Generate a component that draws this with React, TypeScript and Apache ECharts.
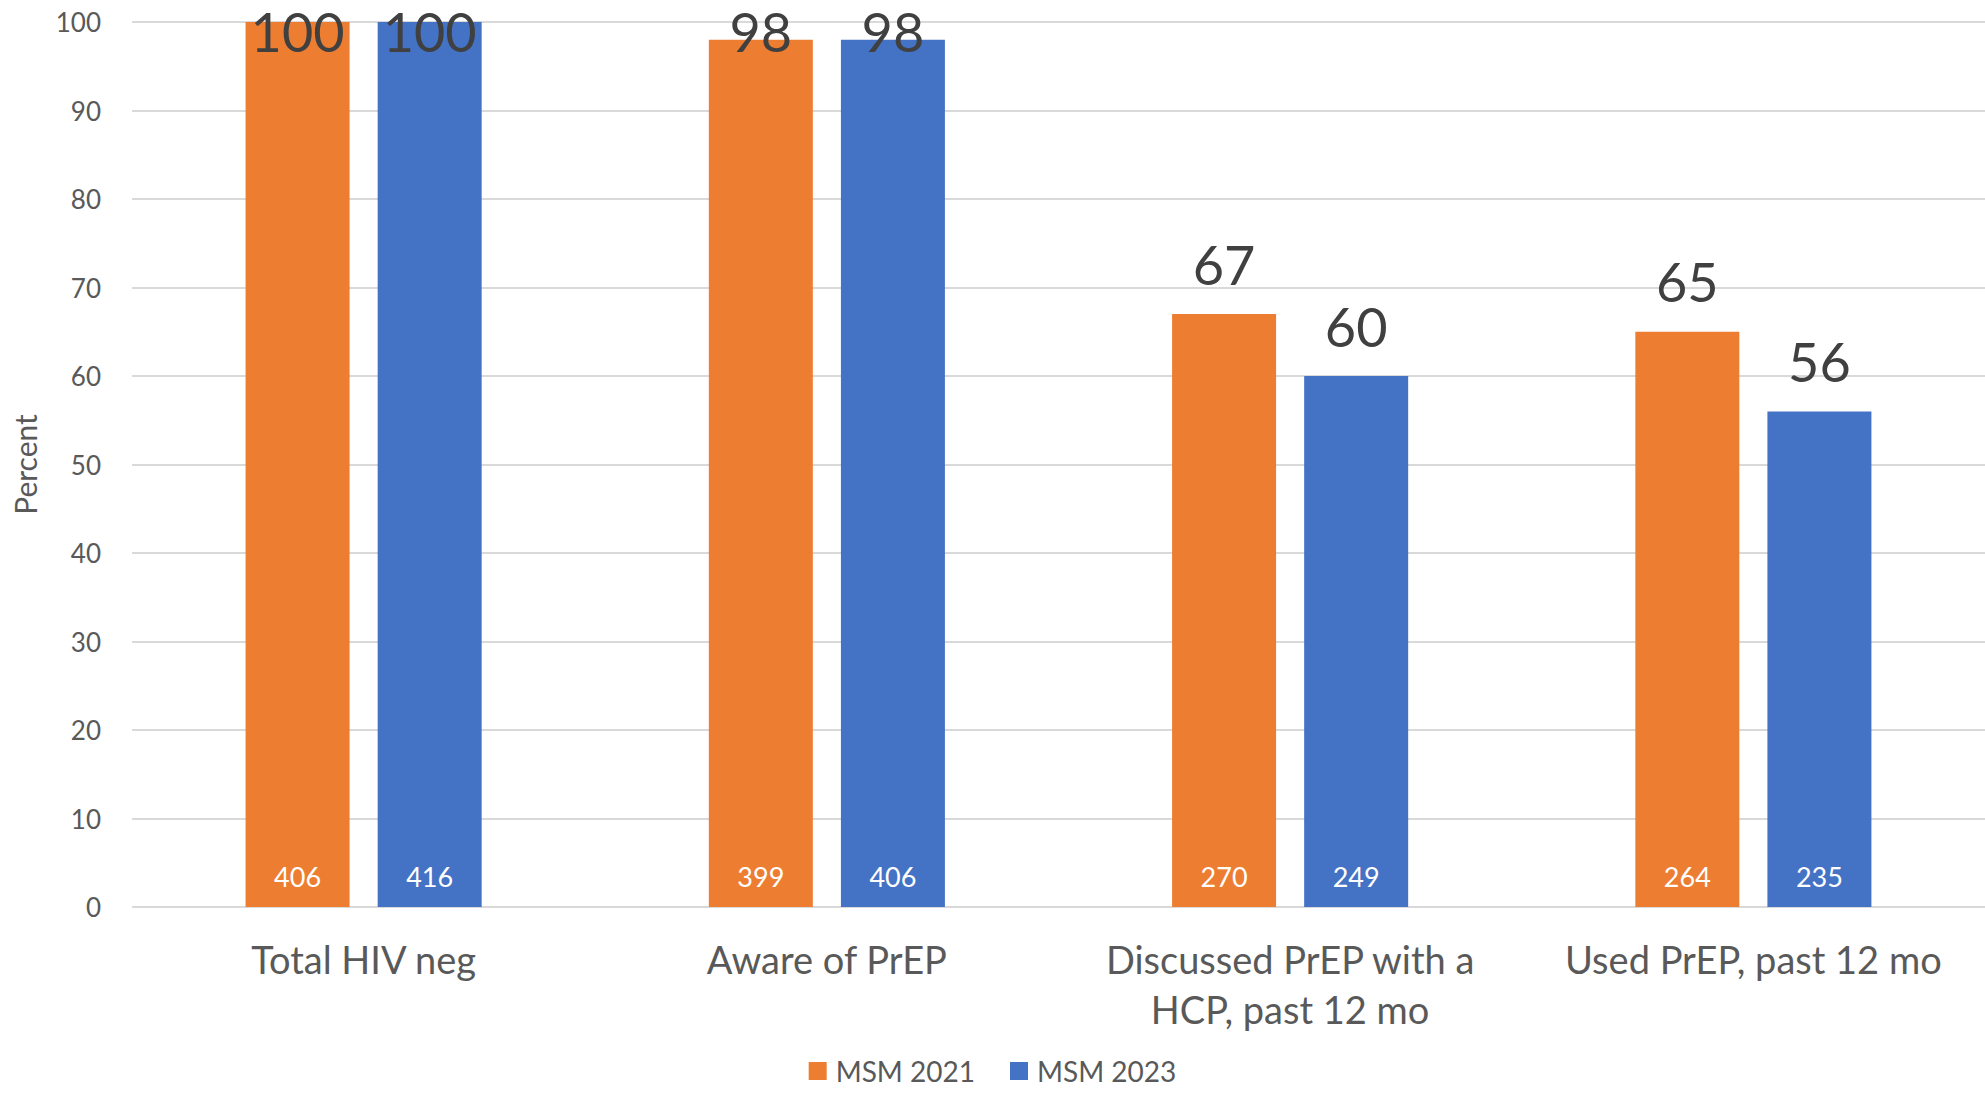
import React, { useEffect, useRef } from "react";
import * as echarts from "echarts";

// Survey measures on the category axis
const categories = [
  "Total HIV neg",
  "Aware of PrEP",
  "Discussed PrEP with a\nHCP, past 12 mo",
  "Used PrEP, past 12 mo",
];

// Percent of respondents
const pct2021 = [100, 98, 67, 65];
const pct2023 = [100, 98, 60, 56];

// Respondent counts shown at the foot of each bar
const n2021 = [406, 399, 270, 264];
const n2023 = [416, 406, 249, 235];

const seriesNames = ["MSM 2021", "MSM 2023"];
const yTicks = { min: 0, max: 100, interval: 10 };

const ORANGE = "#ED7D31";
const BLUE = "#4472C4";
const FONT = "Lato, 'Open Sans', sans-serif";

export default function App() {
  const ref = useRef<HTMLDivElement>(null);

  useEffect(() => {
    if (!ref.current) return;
    const chart = echarts.init(ref.current, undefined, { renderer: "svg" });

    const barCommon = {
      type: "bar" as const,
      barWidth: 104,
      barGap: "27%",
    };

    const countSeries = (name: string, color: string, values: number[], counts: number[]) => ({
      ...barCommon,
      name,
      xAxisIndex: 0,
      data: values,
      itemStyle: { color },
      label: {
        show: true,
        position: "insideBottom",
        distance: 17,
        color: "#FFFFFF",
        fontFamily: FONT,
        fontSize: 27,
        lineHeight: 27,
        formatter: (p: any) => String(counts[p.dataIndex]),
      },
    });

    const valueSeries = (name: string, values: number[]) => ({
      ...barCommon,
      name,
      xAxisIndex: 1,
      data: values,
      silent: true,
      z: 5,
      itemStyle: { color: "rgba(0,0,0,0)" },
      label: {
        show: true,
        position: "top",
        distance: 23,
        color: "#404040",
        fontFamily: FONT,
        fontSize: 54,
        lineHeight: 54,
        formatter: "{c}",
      },
      // keep labels of the tallest bars inside the canvas
      labelLayout: (p: any) =>
        p.labelRect.y < 4 ? { dy: 4 - p.labelRect.y } : {},
    });

    chart.setOption({
      animation: false,
      backgroundColor: "#FFFFFF",
      grid: { left: 132, right: 0, top: 22, bottom: 188, containLabel: false },
      legend: {
        data: seriesNames,
        left: "center",
        top: 1056,
        padding: 0,
        icon: "rect",
        itemWidth: 18,
        itemHeight: 18,
        itemGap: 35,
        textStyle: {
          fontFamily: FONT,
          fontSize: 28,
          lineHeight: 30,
          color: "#595959",
          padding: [0, 0, 0, 4],
        },
      },
      xAxis: [
        {
          type: "category",
          data: categories,
          axisLine: { show: false },
          axisTick: { show: false },
          axisLabel: {
            interval: 0,
            margin: 27,
            fontFamily: FONT,
            fontSize: 38,
            lineHeight: 50,
            color: "#595959",
          },
        },
        {
          type: "category",
          data: categories,
          show: false,
        },
      ],
      yAxis: {
        type: "value",
        min: yTicks.min,
        max: yTicks.max,
        interval: yTicks.interval,
        name: "Percent",
        nameLocation: "middle",
        nameRotate: 90,
        nameGap: 92,
        nameTextStyle: {
          fontFamily: FONT,
          fontSize: 30,
          color: "#595959",
        },
        axisLine: { show: false },
        axisTick: { show: false },
        axisLabel: {
          margin: 31,
          fontFamily: FONT,
          fontSize: 26,
          color: "#595959",
        },
        splitLine: { lineStyle: { color: "#D9D9D9", width: 2 } },
      },
      series: [
        countSeries(seriesNames[0], ORANGE, pct2021, n2021),
        countSeries(seriesNames[1], BLUE, pct2023, n2023),
        valueSeries("MSM 2021 values", pct2021),
        valueSeries("MSM 2023 values", pct2023),
      ],
    });

    return () => chart.dispose();
  }, []);

  return (
    <div
      ref={ref}
      style={{ position: "absolute", left: 0, top: 0, width: 1985, height: 1095 }}
    />
  );
}
